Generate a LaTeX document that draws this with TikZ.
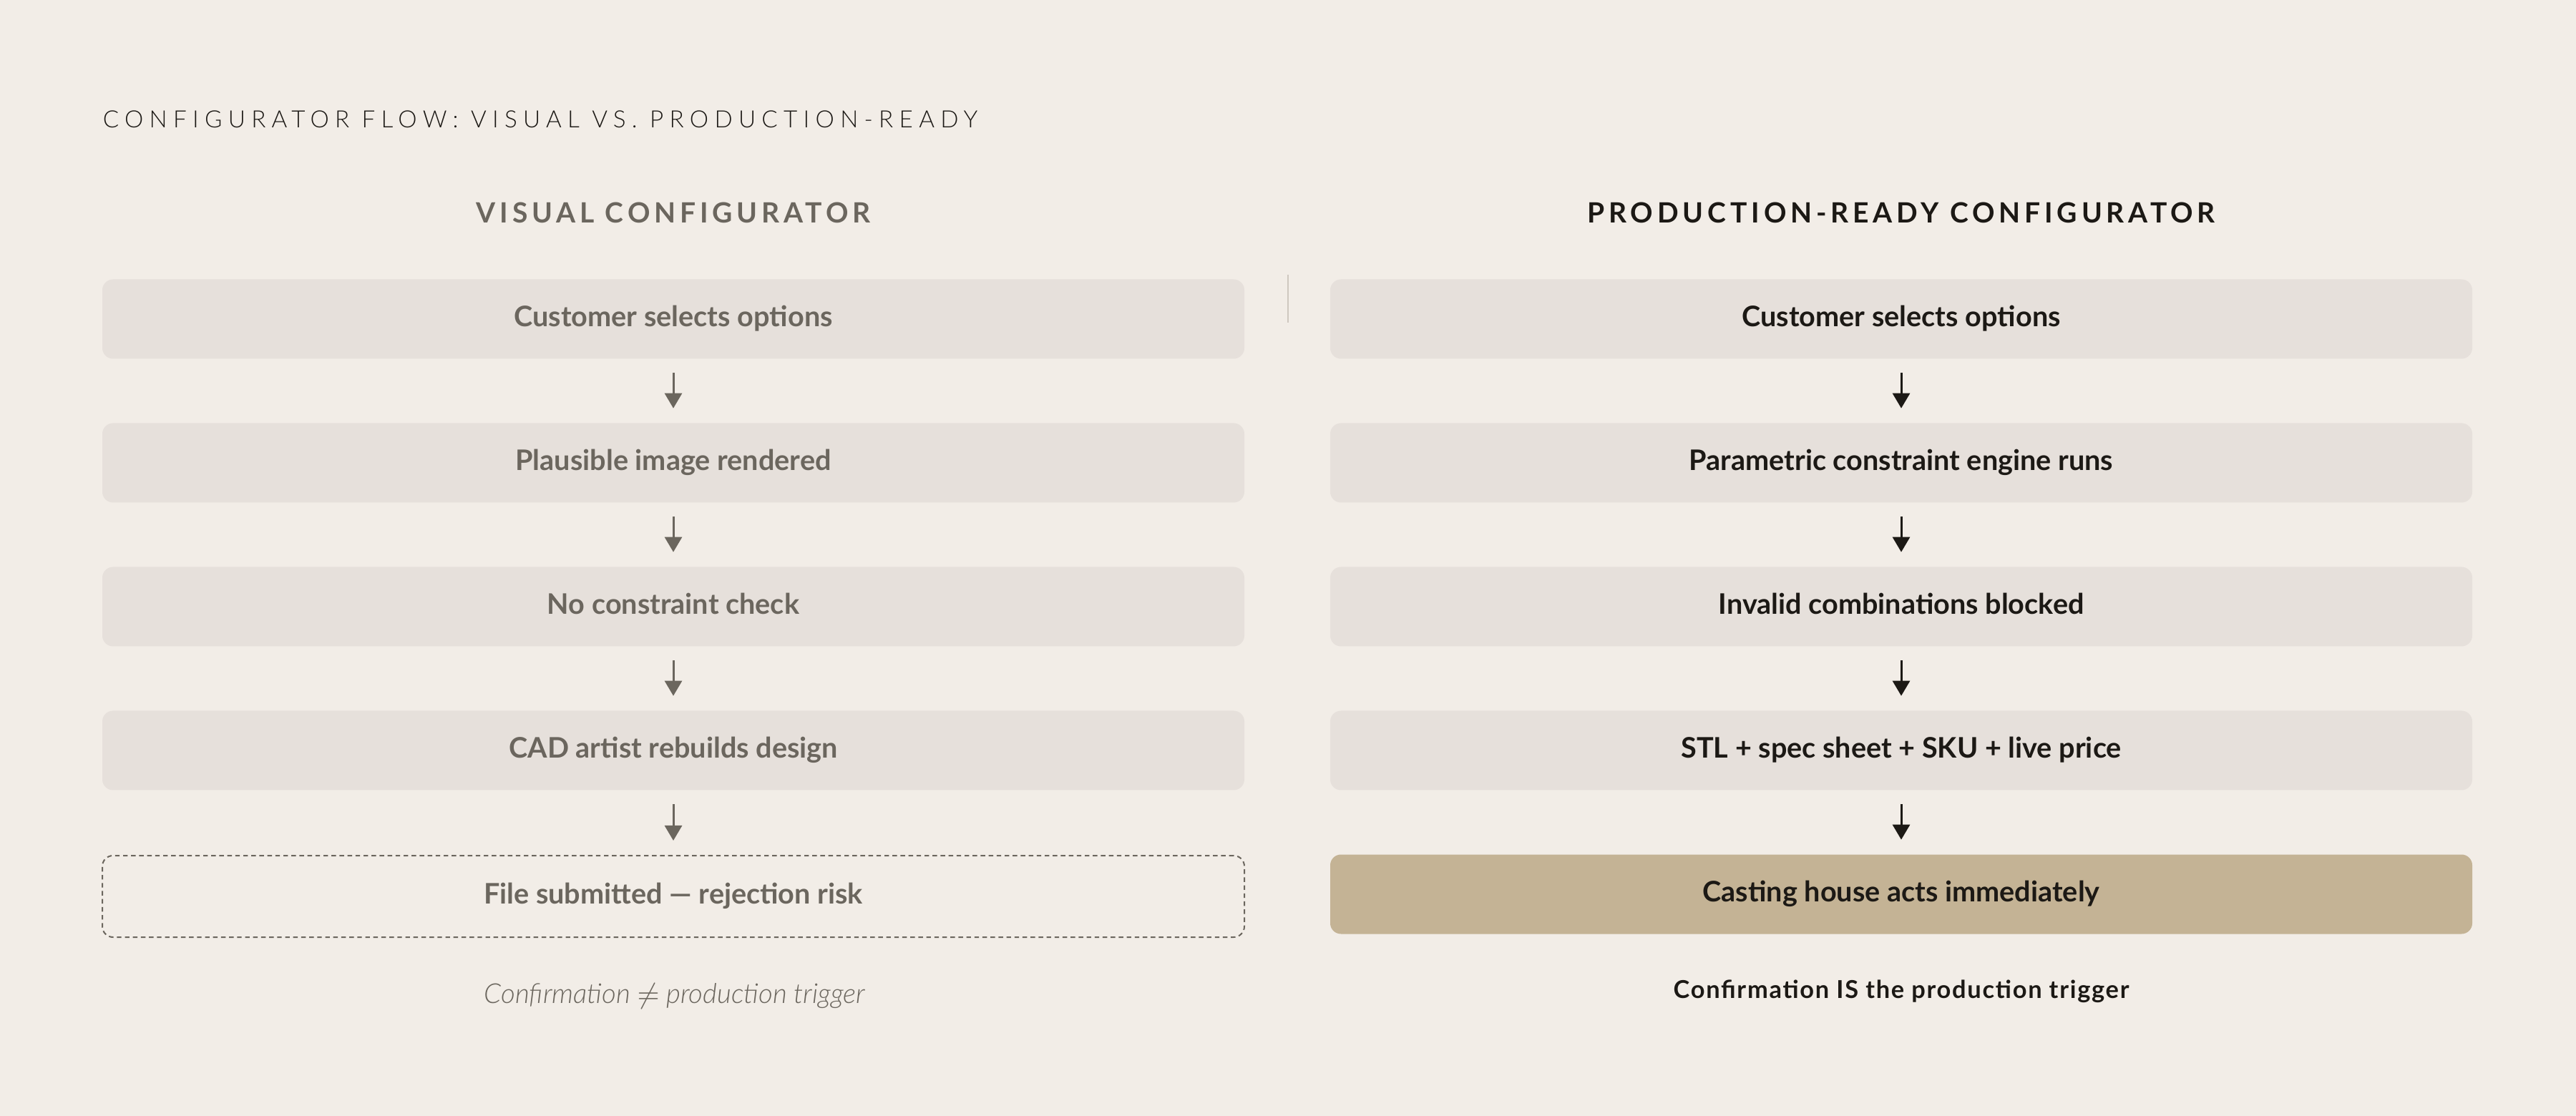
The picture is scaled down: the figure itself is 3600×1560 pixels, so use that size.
\documentclass[tikz,border=0pt]{standalone}
\usepackage{fontspec}
\setmainfont{Lato}
\newfontfamily\lightfont{Lato Light}[LetterSpace=25]
\newfontfamily\lightplain{Lato Light}
\newfontfamily\headfont{Lato}[LetterSpace=15]
\newfontfamily\capfont{Lato}[LetterSpace=5]
\usetikzlibrary{arrows.meta}
\definecolor{bg}{HTML}{F2EDE7}
\definecolor{boxfill}{HTML}{E6E0DB}
\definecolor{tan}{HTML}{C4B395}
\definecolor{grayink}{HTML}{6B665E}
\definecolor{darkink}{HTML}{1C1915}
\definecolor{divider}{HTML}{CFC8C0}
\tikzset{
  stepbox/.style={rounded corners=3.75pt, minimum width=399pt, minimum height=27.75pt,
    inner sep=0pt, font=\bfseries\fontsize{9.9}{12}\selectfont,
    text height=7.13pt, text depth=1.78pt},
  leftbox/.style={stepbox, fill=boxfill, text=grayink},
  rightbox/.style={stepbox, fill=boxfill, text=darkink},
  riskbox/.style={stepbox, draw=grayink, line width=0.5pt, dash pattern=on 1.6pt off 1.2pt, minimum height=28.5pt, text=grayink},
  finalbox/.style={stepbox, fill=tan, text=darkink},
  flowarrow/.style={line width=0.75pt, -{Triangle[width=6pt,length=5.25pt]}, shorten <=4.75pt, shorten >=5pt},
  leftarrow/.style={flowarrow, draw=grayink},
  rightarrow/.style={flowarrow, draw=darkink},
  header/.style={anchor=base, font=\headfont\bfseries\fontsize{9.75}{12}\selectfont},
}
\begin{document}
\begin{tikzpicture}[x=0.25pt,y=-0.25pt]
\fill[bg] (0,0) rectangle (3600,1560);
\useasboundingbox (0,0) rectangle (3600,1560);

\node[anchor=base west, inner sep=0pt, text=darkink, font=\lightfont\fontsize{8.3}{10}\selectfont] (title) at (143,179) {CONFIGURATOR FLOW: VISUAL VS. PRODUCTION-READY};

\node[header, text=grayink, inner sep=0pt] (hl) at (941,312) {VISUAL CONFIGURATOR};
\node[header, text=darkink, inner sep=0pt] (hr) at (2657,312) {PRODUCTION-READY CONFIGURATOR};

\draw[divider, line width=0.5pt] (1800,384) coordinate (d1) -- (1800,451) coordinate (d2);

% left column
\node[leftbox] (l1) at (941,446) {Customer selects options};
\node[leftbox] (l2) at (941,647) {Plausible image rendered};
\node[leftbox] (l3) at (941,848) {No constraint check};
\node[leftbox] (l4) at (941,1049) {CAD artist rebuilds design};
\node[riskbox] (l5) at (941,1253) {File submitted — rejection risk};

\draw[leftarrow] (l1) -- (l2);
\draw[leftarrow] (l2) -- (l3);
\draw[leftarrow] (l3) -- (l4);
\draw[leftarrow] (l4) -- (l5);

\node[anchor=base, inner sep=0pt, text=grayink, font=\lightplain\itshape\fontsize{9.6}{11}\selectfont] (cl) at (943,1402) {Confirmation $\neq$ production trigger};

% right column
\node[rightbox] (r1) at (2657,446) {Customer selects options};
\node[rightbox] (r2) at (2657,647) {Parametric constraint engine runs};
\node[rightbox] (r3) at (2657,848) {Invalid combinations blocked};
\node[rightbox] (r4) at (2657,1049) {STL + spec sheet + SKU + live price};
\node[finalbox] (r5) at (2657,1250) {Casting house acts immediately};

\draw[rightarrow] (r1) -- (r2);
\draw[rightarrow] (r2) -- (r3);
\draw[rightarrow] (r3) -- (r4);
\draw[rightarrow] (r4) -- (r5);

\node[anchor=base, inner sep=0pt, text=darkink, font=\capfont\bfseries\fontsize{8.6}{10}\selectfont] (cr) at (2657,1395) {Confirmation IS the production trigger};
\end{tikzpicture}
\end{document}
